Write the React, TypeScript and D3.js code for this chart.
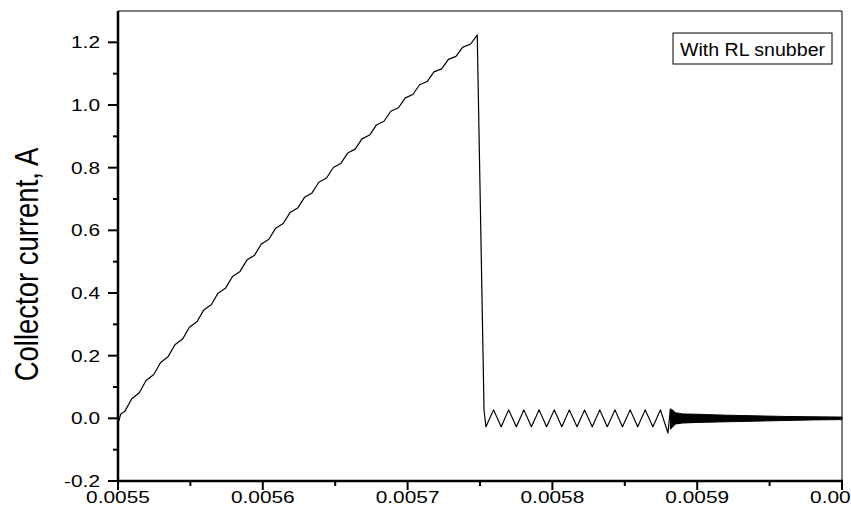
import React from "react";
import * as d3 from "d3";

// time in microseconds, current in A
const rampTimeUs = [
  5500, 5500.6, 5501.9,
  5504.8, 5509.5, 5514.7, 5519.4, 5524.7, 5529.4, 5534.6, 5539.3, 5544.6, 5549.3,
  5554.5, 5559.2, 5564.4, 5569.1, 5574.4, 5579.1, 5584.3, 5589.0, 5594.3, 5599.0,
  5604.2, 5608.9, 5614.1, 5618.8, 5624.1, 5628.8, 5634.0, 5638.7, 5644.0, 5648.7,
  5653.9, 5658.6, 5663.8, 5668.5, 5673.8, 5678.5, 5683.7, 5688.4, 5693.7, 5698.4,
  5703.6, 5708.3, 5713.5, 5718.2, 5723.5, 5728.2, 5733.4, 5738.1, 5743.4, 5748.1,
];
const rampCurrent = [
  0.0, -0.008, 0.014,
  0.023, 0.0623, 0.0818, 0.1207, 0.1397, 0.1782, 0.1968, 0.2348, 0.2529, 0.2906,
  0.3082, 0.3455, 0.3627, 0.3995, 0.4162, 0.4527, 0.4689, 0.505, 0.5208, 0.5564,
  0.5717, 0.6069, 0.6218, 0.6566, 0.671, 0.7054, 0.7194, 0.7534, 0.7669, 0.8004,
  0.8135, 0.8466, 0.8592, 0.892, 0.9041, 0.9364, 0.9481, 0.98, 0.9912, 1.0227,
  1.0335, 1.0646, 1.0749, 1.1056, 1.1154, 1.1457, 1.1551, 1.1849, 1.1939, 1.2233,
];

const ringTimeUs = [
  5752.8, 5754.1, 5759.4, 5764.6, 5769.8, 5775.1, 5780.3, 5785.5, 5790.8, 5796.0,
  5801.3, 5806.5, 5811.7, 5817.0, 5822.2, 5827.5, 5832.7, 5837.9, 5843.2, 5848.4,
  5853.7, 5858.9, 5864.1, 5869.4, 5874.6, 5879.8, 5881.5,
];
const ringCurrent = [
  0.025, -0.027, 0.027, -0.027, 0.027, -0.027, 0.027, -0.027, 0.027, -0.027,
  0.027, -0.027, 0.027, -0.027, 0.027, -0.027, 0.027, -0.027, 0.027, -0.027,
  0.027, -0.027, 0.027, -0.027, 0.027, -0.047, 0.03,
];

// envelope of the fast damped ringing at the end
const bandTimeUs = [5881.5, 5882.5, 5885, 5890, 5900, 5920, 5940, 5960, 5980, 6000];
const bandUpper = [0.03, 0.028, 0.018, 0.014, 0.013, 0.01, 0.008, 0.006, 0.005, 0.004];
const bandLower = [-0.035, -0.03, -0.018, -0.015, -0.013, -0.011, -0.009, -0.007, -0.005, -0.004];

const xTicksUs = [5500, 5600, 5700, 5800, 5900, 6000];
const xTickLabels = ["0.0055", "0.0056", "0.0057", "0.0058", "0.0059", "0.0060"];
const xMinorUs = [5550, 5650, 5750, 5850, 5950];
const yTicks = [-0.2, 0.0, 0.2, 0.4, 0.6, 0.8, 1.0, 1.2];
const yTickLabels = ["-0.2", "0.0", "0.2", "0.4", "0.6", "0.8", "1.0", "1.2"];
const yMinor = [-0.1, 0.1, 0.3, 0.5, 0.7, 0.9, 1.1];

const yLabel = "Collector current, A";
const legendText = "With RL snubber";

const W = 851;
const H = 515;
const L = 118;
const R = 842;
const T = 11;
const B = 481;

export default function App() {
  const x = d3.scaleLinear().domain([5500, 6000]).range([L, R]);
  const y = d3.scaleLinear().domain([-0.2, 1.3]).range([B, T]);

  const pts: [number, number][] = [];
  rampTimeUs.forEach((t, i) => pts.push([t, rampCurrent[i]]));
  ringTimeUs.forEach((t, i) => pts.push([t, ringCurrent[i]]));
  const line = d3
    .line<[number, number]>()
    .x((d) => x(d[0]))
    .y((d) => y(d[1]));

  const bandData = bandTimeUs.map((t, i) => ({ t, hi: bandUpper[i], lo: bandLower[i] }));
  const area = d3
    .area<{ t: number; hi: number; lo: number }>()
    .x((d) => x(d.t))
    .y0((d) => y(d.lo))
    .y1((d) => y(d.hi));

  const font = "'Liberation Sans', Arial, sans-serif";
  const sx = 1.28;

  return (
    <svg
      width={W}
      height={H}
      style={{ position: "absolute", left: 0, top: 0, background: "#fff", overflow: "hidden" }}
    >
      <rect x={0} y={0} width={W} height={H} fill="#fff" />
      {/* frame */}
      <line x1={L} y1={T} x2={R} y2={T} stroke="#000" strokeWidth={1} />
      <line x1={R} y1={T} x2={R} y2={B} stroke="#000" strokeWidth={1} />

      {/* data */}
      <path d={area(bandData) || ""} fill="#000" stroke="#000" strokeWidth={1} />
      <path d={line(pts) || ""} fill="none" stroke="#000" strokeWidth={1.2} strokeLinejoin="round" />

      {/* axes */}
      <line x1={L} y1={T} x2={L} y2={B + 1} stroke="#000" strokeWidth={2.5} />
      <line x1={L - 1} y1={B} x2={R + 1} y2={B} stroke="#000" strokeWidth={2.5} />

      {yTicks.map((v, i) => (
        <g key={"yt" + i}>
          <line x1={L - 10} x2={L} y1={y(v)} y2={y(v)} stroke="#000" strokeWidth={2} />
          <text
            transform={`translate(${L - 18},${y(v) + 6}) scale(${sx},1)`}
            textAnchor="end"
            fontFamily={font}
            fontSize={16.3}
            fill="#000"
          >
            {yTickLabels[i]}
          </text>
        </g>
      ))}
      {yMinor.map((v, i) => (
        <line key={"ym" + i} x1={L - 5} x2={L} y1={y(v)} y2={y(v)} stroke="#000" strokeWidth={2} />
      ))}

      {xTicksUs.map((v, i) => (
        <g key={"xt" + i}>
          <line x1={x(v)} x2={x(v)} y1={B} y2={B + 9} stroke="#000" strokeWidth={2} />
          <text
            transform={`translate(${x(v)},${B + 22}) scale(${sx},1)`}
            textAnchor="middle"
            fontFamily={font}
            fontSize={16.3}
            fill="#000"
          >
            {xTickLabels[i]}
          </text>
        </g>
      ))}
      {xMinorUs.map((v, i) => (
        <line key={"xm" + i} x1={x(v)} x2={x(v)} y1={B} y2={B + 5} stroke="#000" strokeWidth={2} />
      ))}

      {/* y axis label */}
      <text
        transform={`translate(37.5,${(147 + 382) / 2}) scale(1.22,1) rotate(-90)`}
        textAnchor="middle"
        fontFamily={font}
        fontSize={27.5}
        fill="#000"
      >
        {yLabel}
      </text>

      {/* legend */}
      <rect x={673} y={33} width={159} height={31} fill="#fff" stroke="#000" strokeWidth={1} />
      <text
        transform={`translate(${752.5},56) scale(1.12,1)`}
        textAnchor="middle"
        fontFamily={font}
        fontSize={17.5}
        fill="#000"
      >
        {legendText}
      </text>
    </svg>
  );
}
